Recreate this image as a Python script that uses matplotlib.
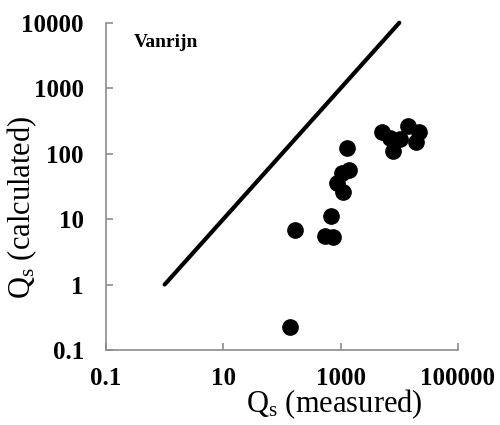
import matplotlib
matplotlib.use('Agg')
import matplotlib.pyplot as plt

plt.rcParams['font.family'] = 'Liberation Serif'
plt.rcParams['mathtext.fontset'] = 'custom'
plt.rcParams['mathtext.rm'] = 'Liberation Serif'
plt.rcParams['mathtext.it'] = 'Liberation Serif:italic'

# measured vs calculated sediment discharge
measured = [137, 169, 541, 748, 684, 1082, 855, 1040, 1370, 1267,
            5000, 6900, 7900, 10260, 14200, 21900, 19200]
calculated = [0.224, 6.7, 5.5, 5.3, 11.2, 26, 35, 51, 56, 123,
              215, 172, 110, 170, 263, 215, 151]

# line of perfect agreement
line_x = [1, 10000]
line_y = [1, 10000]

xticks = [0.1, 10, 1000, 100000]
xtick_labels = ['0.1', '10', '1000', '100000']
yticks = [0.1, 1, 10, 100, 1000, 10000]
ytick_labels = ['0.1', '1', '10', '100', '1000', '10000']

fig = plt.figure(figsize=(5, 4.25), dpi=100)
ax = fig.add_axes([0.212, 0.1765, 0.704, 0.77])

ax.plot(line_x, line_y, color='black', lw=3, solid_capstyle='round', clip_on=False)
ax.plot(measured, calculated, 'o', color='black', markersize=11, clip_on=False)

ax.set_xscale('log')
ax.set_yscale('log')
ax.set_xlim(0.1, 100000)
ax.set_ylim(0.1, 10000)
ax.minorticks_off()
ax.set_xticks(xticks)
ax.set_xticklabels(xtick_labels)
ax.set_yticks(yticks)
ax.set_yticklabels(ytick_labels)

for s in ['top', 'right']:
    ax.spines[s].set_visible(False)
for s in ['left', 'bottom']:
    ax.spines[s].set_color('#8c8c8c')
    ax.spines[s].set_linewidth(1.2)

ax.tick_params(axis='both', direction='in', length=5, width=1.2, color='#8c8c8c',
               labelsize=18)
ax.tick_params(axis='x', pad=12)
ax.tick_params(axis='y', pad=16)
for lab in ax.get_xticklabels() + ax.get_yticklabels():
    lab.set_fontweight('bold')

ax.set_xlabel(r'Q$_\mathrm{s}$ (measured)', fontsize=22)
ax.xaxis.set_label_coords(0.65, -0.115)
ax.set_ylabel(r'Q$_\mathrm{s}$ (calculated)', fontsize=22)
ax.yaxis.set_label_coords(-0.19, 0.437)

ax.text(0.08, 0.927, 'Vanrijn', transform=ax.transAxes, fontsize=14,
        fontweight='bold', va='baseline')

fig.savefig('out.png', dpi=100)
